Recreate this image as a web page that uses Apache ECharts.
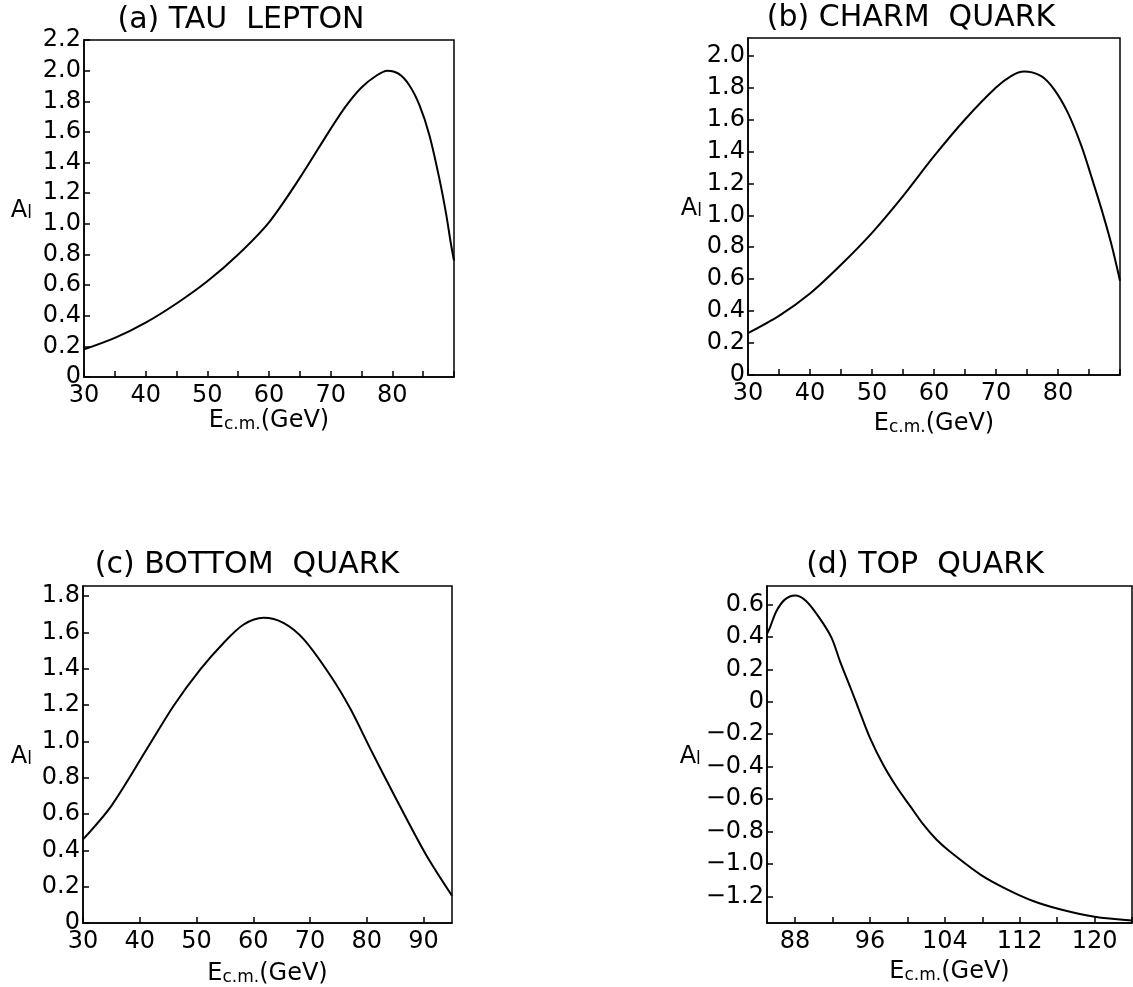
<!DOCTYPE html>
<html>
<head>
<meta charset="utf-8">
<script src="https://cdn.jsdelivr.net/npm/echarts@6/dist/echarts.min.js"></script>
<style>
  html, body { margin: 0; padding: 0; background: #fff; }
  #main { width: 1133px; height: 987px; }
</style>
</head>
<body>
<div id="main"></div>
<script>
// (a) tau lepton
var tauX = [30, 35, 40, 45, 50, 55, 60, 65, 70, 72.5, 75, 77.5, 79.2, 81, 82.75, 84.4, 86, 87.6, 88.7, 89.5, 90];
var tauY = [0.18, 0.255, 0.355, 0.48, 0.625, 0.80, 1.01, 1.30, 1.62, 1.77, 1.89, 1.97, 2.0, 1.98, 1.905, 1.775, 1.58, 1.30, 1.07, 0.87, 0.76];
// (b) charm quark
var charmX = [30, 35, 40, 45, 50, 55, 60, 65, 70, 72.5, 74.5, 77.3, 79.4, 81.6, 83.8, 85.4, 87, 88.6, 90];
var charmY = [0.262, 0.37, 0.51, 0.69, 0.89, 1.12, 1.37, 1.60, 1.80, 1.873, 1.90, 1.871, 1.787, 1.641, 1.432, 1.24, 1.04, 0.82, 0.59];
// (c) bottom quark
var bottomX = [30, 35, 41.3, 46, 50.7, 54.8, 58.3, 61.8, 65.3, 68.9, 73.6, 77.1, 80.6, 85.1, 90.4, 95];
var bottomY = [0.46, 0.645, 0.96, 1.197, 1.397, 1.543, 1.643, 1.68, 1.652, 1.561, 1.361, 1.179, 0.96, 0.687, 0.377, 0.15];
// (d) top quark
var topX = [85, 85.3, 86, 86.9, 88, 89.2, 90.6, 91.9, 92.8, 93.9, 94.9, 96, 97.4, 98.8, 100.3, 101.7, 103.1, 104.5, 107.8, 110.7, 113.5, 116.4, 120, 124];
var topY = [0.42, 0.457, 0.559, 0.631, 0.656, 0.621, 0.518, 0.395, 0.25, 0.09, -0.06, -0.222, -0.387, -0.521, -0.644, -0.757, -0.85, -0.922, -1.066, -1.159, -1.231, -1.282, -1.327, -1.35];

// tick positions and labels
var xTicksAB = [30, 35, 40, 45, 50, 55, 60, 65, 70, 75, 80, 85, 90];
var xLabelsAB = [30, 40, 50, 60, 70, 80];
var xTicksC = [30, 40, 50, 60, 70, 80, 90];
var xLabelsC = [30, 40, 50, 60, 70, 80, 90];
var xTicksD = [88, 92, 96, 100, 104, 108, 112, 116, 120, 124];
var xLabelsD = [88, 96, 104, 112, 120];
var yTicksA = [0, 0.2, 0.4, 0.6, 0.8, 1.0, 1.2, 1.4, 1.6, 1.8, 2.0, 2.2];
var yTicksB = [0, 0.2, 0.4, 0.6, 0.8, 1.0, 1.2, 1.4, 1.6, 1.8, 2.0];
var yTicksC = [0, 0.2, 0.4, 0.6, 0.8, 1.0, 1.2, 1.4, 1.6, 1.8];
var yTicksD = [-1.2, -1.0, -0.8, -0.6, -0.4, -0.2, 0, 0.2, 0.4, 0.6];

var titles = ['(a) TAU  LEPTON', '(b) CHARM  QUARK', '(c) BOTTOM  QUARK', '(d) TOP  QUARK'];

var FONT = 'DejaVu Sans';
var chart = echarts.init(document.getElementById('main'));

function pairs(xs, ys) {
  return xs.map(function (x, i) { return [x, ys[i]]; });
}

function fmtY(v) {
  if (Math.abs(v) < 1e-9) return '0';
  return (v < 0 ? '\u2212' : '') + Math.abs(v).toFixed(1);
}

function xAxis(idx, min, max, ticks, labels, gap) {
  return {
    type: 'value', gridIndex: idx, min: min, max: max,
    axisLine: { onZero: false, lineStyle: { color: '#000', width: 1.5 } },
    axisTick: { inside: true, length: 6, customValues: ticks, lineStyle: { color: '#000', width: 1.5 } },
    axisLabel: { customValues: labels, margin: 7, color: '#000', fontFamily: FONT, fontSize: 24 },
    splitLine: { show: false },
    name: '{e|E}{s|c.m.}{n|(GeV)}',
    nameLocation: 'middle', nameGap: gap,
    nameTextStyle: {
      color: '#000', fontFamily: FONT,
      rich: {
        e: { fontFamily: FONT, fontSize: 24, color: '#000', lineHeight: 28, verticalAlign: 'bottom' },
        s: { fontFamily: FONT, fontSize: 17, color: '#000', lineHeight: 14, verticalAlign: 'bottom' },
        n: { fontFamily: FONT, fontSize: 24, color: '#000', lineHeight: 28, verticalAlign: 'bottom' }
      }
    }
  };
}

function yAxis(idx, min, max, ticks, gap) {
  return {
    type: 'value', gridIndex: idx, min: min, max: max,
    axisLine: { onZero: false, lineStyle: { color: '#000', width: 1.5 } },
    axisTick: { inside: true, length: 6, customValues: ticks, lineStyle: { color: '#000', width: 1.5 } },
    axisLabel: { customValues: ticks, margin: 3, color: '#000', fontFamily: FONT, fontSize: 24, formatter: fmtY },
    splitLine: { show: false },
    name: '{a|A}{l|l}',
    nameLocation: 'middle', nameRotate: 0, nameGap: gap,
    nameTextStyle: {
      color: '#000', fontFamily: FONT,
      rich: {
        a: { fontFamily: FONT, fontSize: 24, color: '#000', lineHeight: 28, verticalAlign: 'bottom' },
        l: { fontFamily: FONT, fontSize: 17, color: '#000', lineHeight: 16, verticalAlign: 'bottom' }
      }
    }
  };
}

function curve(idx, xs, ys) {
  return {
    type: 'line', xAxisIndex: idx, yAxisIndex: idx,
    data: pairs(xs, ys), smooth: 0.3, showSymbol: false, symbol: 'none',
    lineStyle: { color: '#000', width: 2 }
  };
}

var gridBox = { show: true, borderColor: '#000', borderWidth: 1.5, backgroundColor: 'transparent' };

var titlePos = [[241, 20], [911, 18], [247, 565], [925, 565]];

var option = {
  backgroundColor: '#fff',
  animation: false,
  grid: [
    Object.assign({ left: 84, top: 40, width: 370, height: 337 }, gridBox),
    Object.assign({ left: 748, top: 38, width: 372, height: 337 }, gridBox),
    Object.assign({ left: 83, top: 586, width: 369, height: 338 }, gridBox),
    Object.assign({ left: 767, top: 586, width: 365, height: 337 }, gridBox)
  ],
  xAxis: [
    xAxis(0, 30, 90, xTicksAB, xLabelsAB, 18),
    xAxis(1, 30, 90, xTicksAB, xLabelsAB, 33),
    xAxis(2, 30, 95, xTicksC, xLabelsC, 35),
    xAxis(3, 85, 124, xTicksD, xLabelsD, 33)
  ],
  yAxis: [
    yAxis(0, 0, 2.2, yTicksA, 52),
    yAxis(1, 0, 2.11, yTicksB, 46),
    yAxis(2, 0, 1.855, yTicksC, 51),
    yAxis(3, -1.365, 0.715, yTicksD, 58)
  ],
  series: [
    curve(0, tauX, tauY),
    curve(1, charmX, charmY),
    curve(2, bottomX, bottomY),
    curve(3, topX, topY)
  ],
  graphic: titles.map(function (t, i) {
    return {
      type: 'text', x: titlePos[i][0], y: titlePos[i][1],
      style: { text: t, fill: '#000', font: '30px "DejaVu Sans"', textAlign: 'center', textVerticalAlign: 'middle' }
    };
  })
};

chart.setOption(option);
</script>
</body>
</html>
